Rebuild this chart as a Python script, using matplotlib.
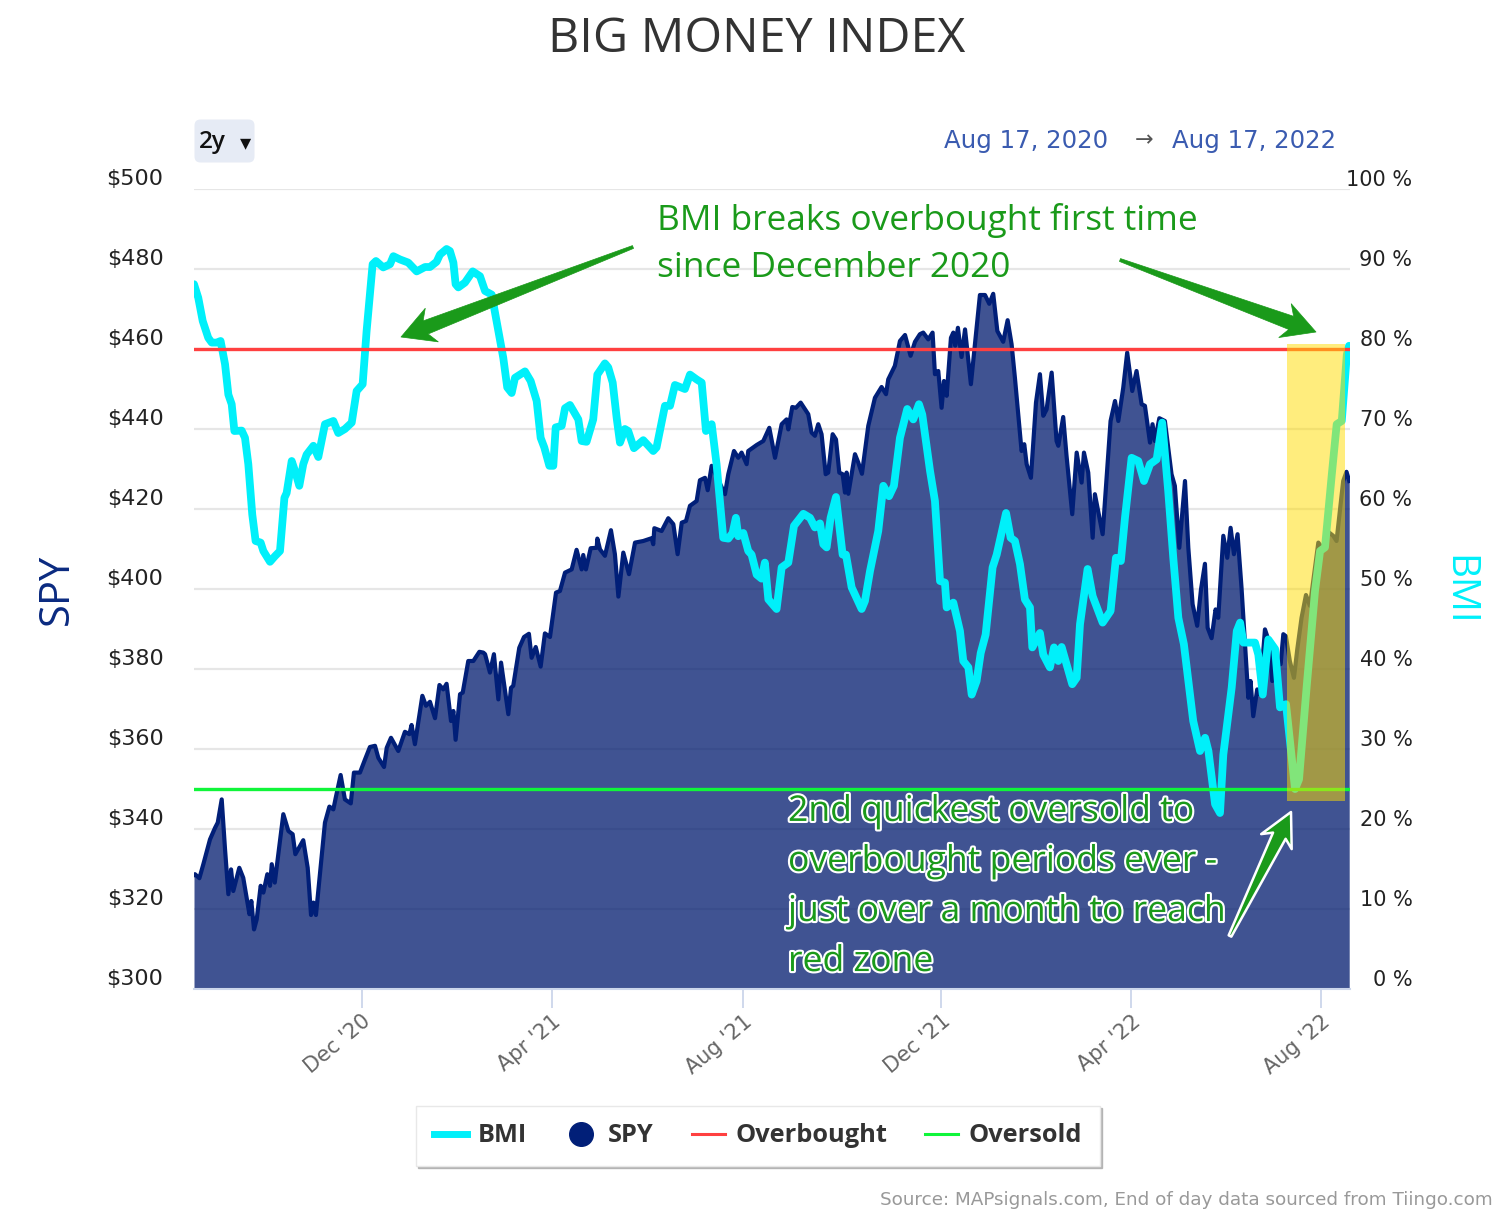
import matplotlib
matplotlib.use("Agg")
import numpy as np
import matplotlib.pyplot as plt
import matplotlib.patheffects as pe
from matplotlib.lines import Line2D
from matplotlib.patches import FancyBboxPatch, Polygon, Rectangle
from matplotlib.transforms import ScaledTranslation

# days since Aug 17, 2020 and SPY close
spy_days = [0, 0.6, 3.4, 5.9, 10.1, 13.3, 15, 17.5, 19.6, 21.7, 23.4, 24.8, 28.6, 31.1, 35, 36.2, 37.9, 39.6, 42.1, 43.8,
            46.3, 48, 49.1, 51, 56.4, 59.6, 62.3, 64, 69, 71.8, 73.9, 75.4, 77, 82.7, 85.5, 88, 89.5, 92.6, 95.3, 99,
            101, 104.8, 108, 111.1, 114.3, 116.4, 120, 121.7, 124.4, 129, 133.2, 136, 137.4, 139.5, 144.2, 146.5, 149,
            152.2, 155, 157.4, 159.5, 162.3, 163.8, 165.2, 168, 169.7, 173.2, 176.4, 180.2, 182.7,
            183.8, 186.9, 189.4, 192.2, 193.9, 198.5, 200.2, 201.6, 205.4, 208.4, 211.5, 213.2, 215.8, 218.9, 221.6,
            224.8, 228.6, 231.1, 234.3, 238.5, 241.6, 244.8, 245.8, 247.5, 250.5, 254.3, 254.7, 256.4, 259.5, 263.3,
            265.8, 268, 271.1, 274.7, 278.5, 283.7, 289, 290, 290.7, 295.3, 299.5, 302.7, 305.4, 308, 310.7, 313.2,
            317.4, 319.5, 322.7, 324.4, 326.9, 335.3, 337.4, 341, 343.7, 345.8, 349, 350, 355.3, 359.5,
            363.3, 366.9, 371.1, 374.2, 375.3, 377.8, 380.1, 383.1, 387.9, 390, 392.1, 394.2, 396.3, 398.9, 400.5,
            403.3, 405.4, 407.5, 409.6, 411.1, 412.1, 413.2, 417.4, 419.5, 421.8, 425.8, 430, 434.2, 437, 438.4, 442.6,
            445.8, 449, 452.5, 455.3, 458.4, 460.5, 463.7, 466.4, 467.9, 470, 472.1, 473.6, 475.3, 478, 479.5, 480.7,
            482.4, 484.7, 486.9, 490.6, 496.3, 499.5, 502.2, 504.7, 507.3, 511, 513.8, 516.3, 518.4, 522.6, 524.3,
            525.8, 528.5, 531.7, 534.2,
            536.3, 538.4, 541.6, 544.7, 545.8, 548.9, 551, 554.6, 557.4, 560.5, 562, 564.7, 567.5, 568.9, 573.8, 578.8,
            581.6, 583.7, 586.8, 589.3, 592.5, 595.2, 598.4, 600.5, 603.7, 605.3, 606.8, 609.6, 613.1, 617.3, 619.4,
            622.2, 625.8, 627.9, 630.6, 633.5, 635.9, 638.4, 640.1, 642.6, 645.1, 646.8, 650, 652.5, 654.6, 656.7, 659,
            661.5, 663.6, 665.8, 667.2, 668.9, 671.4, 673.1, 676.3, 679.4, 680.9, 684.7, 686.2, 687.9, 689.5, 692,
            694.6, 696.7, 699.4, 702.2, 704.7, 710, 713.1, 715.6, 719.4, 721.5, 723.6, 725.7, 727.8, 729.5]
spy_vals = [328.5, 328.7, 327.7, 331.2, 337.4, 340.3, 341.6, 347.4, 334.9, 323.7, 329.9, 324.5, 330.3, 327.8, 318.7, 322,
            314.9, 317.4, 325.8, 324.1, 328.7, 325.8, 331.2, 326.6, 343.7, 339.5, 338.7, 333.7, 337.2, 330.3, 318.5,
            321.6, 318.5, 341.6, 345.6, 344.9, 347.8, 353.5, 347.4, 346.4, 354.1, 354.1, 357.4, 360.5, 360.8, 357.8,
            355.5, 360.3, 362.8, 359.5, 364.3, 363.7, 366, 361.2, 373.3, 370.8, 371.8, 367.7, 376, 374.9, 376.3, 367,
            369.5, 362.3, 373.7, 374.1, 382, 382, 384.3, 384.1,
            383.7, 379.1, 383.7, 372.4, 381.6, 368.7, 375.3, 375.8, 385.3, 388, 388.8, 382.8, 385.5, 380.6, 388.9, 388,
            399.1, 399.5, 404.1, 404.9, 409.8, 404.9, 408.5, 404.9, 410.2, 410.3, 412.6, 409.9, 408.3, 414.7, 408.7,
            398.1, 409.1, 403.7, 411.6, 412, 412.7, 411.2, 415.2, 414.5, 417.7, 416.2, 408.7, 416.6, 417, 420.8, 422,
            427.2, 427.8, 424.7, 430.8, 423.7, 428.7, 434.5, 432.8, 434.1, 431.2, 434.5, 436, 437,
            440.3, 432.8, 441.2, 442.4, 439.9, 445.5, 445.3, 446.6, 443.7, 439.1, 438.3, 441.2, 438.7, 428.7, 429.1,
            438.7, 437.4, 429.1, 428.7, 424.1, 429.1, 423.8, 433.7, 431.6, 428.8, 440.8, 447.8, 450.5, 448.7, 452.4,
            455.8, 462, 463.5, 458.3, 461.8, 463.7, 464.1, 462.4, 464.1, 453.7, 454.5, 445.3, 452, 448.3, 462.8, 464.1,
            460.8, 465.3, 458, 464.9, 451.2, 473.5, 473.5, 471.3, 473.8, 464.5, 461.8, 467.2, 461.2, 452.8, 434.5,
            436.2, 431.2, 427.8, 446.6, 453.7,
            443.3, 444.9, 454.1, 437, 435.8, 443, 433.3, 418.7, 434.1, 426.6, 434.1, 429.1, 412.8, 423.7, 413.7, 442,
            447, 442, 450.3, 459.1, 449.5, 454.5, 446.2, 445.8, 436.6, 441.2, 437, 442.7, 442, 428.7, 425.8, 410.3, 427,
            410.3, 396.2, 390.8, 399.9, 406.3, 390.3, 387.7, 394.9, 392.8, 413.3, 407.8, 415.3, 408.7, 413.7, 400.3,
            387, 372.8, 377, 368.2, 374.9, 373.7, 389.9, 386.2, 377, 382, 381.2, 388.7, 388.2, 382, 377.8, 384.9, 392.8,
            398.5, 395.8, 411.6, 409.9, 414.5, 413.3, 412, 419.5, 427, 429.3, 427]

bmi_days = [0, 2.7, 5.5, 9, 11.2, 14.3, 16.8, 19.6, 21.7, 23.8, 25.5, 30.1, 32.2, 34.3, 36.8, 38.9, 42.1, 43.8, 48, 51.1,
            54.3, 57.1, 58.5, 61.7, 63.8, 66.5, 69, 71.1, 75.4, 78.5, 82.7, 88, 91.1, 95.3, 99.6, 102.7, 106.5, 109,
            112.8, 114.9, 119.5, 123.8, 125.9, 130, 135.3, 140.6, 145.9, 149, 153.2, 155.3, 159.5, 161.6, 163.8, 165.2,
            166.9, 171.1, 176, 180.6, 183.8, 188,
            192.2, 195.3, 197.8, 200.6, 202.7, 209, 212.6, 216.4, 218.9, 221.2, 224.4, 226.9, 228.4, 232.2, 234.3,
            237.4, 242.7, 244.8, 247.9, 252.1, 254.7, 259.5, 261.6, 264.4, 266.9, 269, 272.1, 274.2, 277.8, 283.7, 290,
            292.1, 297.4, 300.6, 303.7, 310, 313.2, 317.4, 320.6, 323.3, 326.9, 330, 334.2, 337.4, 340.1, 342.2, 343.7,
            346.9, 350, 352.1, 355.3, 358.4, 360.5, 362.7, 367.9, 371.1, 375.3, 378.9, 384.8, 389, 392.1, 395.3, 397.4,
            399.5, 402, 405.4, 409.6, 411.7, 415.3, 421.6, 423.7, 426.9, 432.1, 435.3, 438.9, 442, 445.8, 450.4, 454.2,
            457.8, 459.9, 464.8, 467.9, 471.1, 474.2, 475.3, 479.5, 483.7, 485.8, 489, 491.1, 494.2, 496.8, 499.9,
            504.3, 506.9, 512.8, 515.7, 518.4, 521.6, 524.7, 527.9, 529.4, 534.2, 536.3, 540.5, 543.1, 545.8, 547.9,
            551, 554.6, 557.4, 559.5, 564.3, 567.5, 573.8, 578.8, 582.2, 585.3, 587.9, 592.1,
            596.3, 599.9, 603.7, 607.9, 611.4, 615.2, 618.4, 621.6, 625.1, 631,
            635.3, 638.5, 640.6, 644.8, 647.9, 650, 655.3, 658.5, 660.6, 662.7, 670, 672.1, 674.9, 678.4, 682.7, 685.8,
            689.6, 695.3, 697.8, 702.6, 707.9, 711.1, 714.2, 718.5, 721.6, 724.8, 728, 729.4]
bmi_vals = [88.1, 86.4, 83.5, 81.4, 80.8, 80.8, 81, 78.1, 74.3, 73.1, 69.75, 69.8, 68.9, 65.6, 59.3, 56, 55.8, 54.75, 53.4,
            54.1, 54.75, 61.4, 62, 66, 64.75, 62.9, 65.6, 66.8, 67.9, 66.5, 70.6, 71, 69.5, 70, 70.8, 74.75, 75.6, 82.25,
            90.6, 91, 90.2, 90.6, 91.6, 91.2, 90.8, 89.7, 90.25, 90.25, 90.9, 91.8, 92.5, 92.25, 90.8, 88.1, 87.7, 88.3,
            89.7, 89.1, 87.25, 86.8,
            82.25, 78.9, 75.2, 74.5, 76.4, 77.2, 76, 73.5, 68.9, 67.7, 65.4, 65.4, 70.2, 70.4, 72.6, 73, 71.2, 68.5, 68.4,
            71.2, 76.8, 78.2, 77.7, 75.8, 71.4, 68.3, 70, 69.75, 67.6, 68.6, 67.25, 67.7, 72.9, 72.9, 75.5, 75, 76.8, 76.2,
            75.8, 69.75, 70.6, 65.6, 56.4, 56.3, 57, 58.9, 56.6, 57, 54.75, 54.3, 51.8, 51.3, 53.3, 48.7, 47.5, 52.7, 53.3,
            57.9, 59.4, 58.9, 57.7, 58.2, 55.6,
            55.2, 58.9, 61.5, 54.3, 54.3, 50.2, 47.5, 48.5, 52.25, 57.25, 62.9, 61.6, 62.9, 68.9, 72.5, 71.2, 73.1, 71.8,
            64.75, 61, 51, 50.8, 47.7, 48.3, 44.75, 41, 40.2, 36.8, 38.5, 42, 44.3, 52.7, 54.3, 59.5, 56.4, 56, 53.1, 48.7,
            47.7, 42.7, 44.5, 41.8, 40.2, 42.7, 41, 42.75, 40.6, 38.1, 38.9, 45.6, 52.5, 49.1, 45.8, 47.25, 53.9, 53.5,
            58.9, 66.4,
            66, 63.5, 65.6, 66.2, 70.8, 62.25, 53.9, 46.4, 43.1, 33.5,
            29.75, 31.4, 29.75, 23.1, 22, 29.3, 37.7, 44.75, 45.8, 43.3, 43.3, 41.8, 36.8, 43.7, 42.5, 35.2, 35.6, 25, 26.2,
            37.7, 49.75, 54.75, 55.2, 64.3, 70.6, 71, 79.3, 80.4]

overbought = 80
oversold = 25
highlight_days = (690.2, 726.8)
highlight_bmi = (23.5, 80.6)

xtick_days = [106, 226, 347, 472, 592, 712]
xtick_labels = ["Dec '20", "Apr '21", "Aug '21", "Dec '21", "Apr '22", "Aug '22"]
spy_ticks = list(range(300, 501, 20))
bmi_ticks = list(range(0, 101, 10))

W, H = 1500, 1213
FONT = "Open Sans"
ANNOT_GREEN = "#1A9A1A"


def px(x, y):
    # figure fraction from pixel position in the picture
    return x / W, 1 - y / H


def draw_arrow(fig, tail, head, shaft=14, head_w=36, head_l=33, outline=False):
    tail = np.array(px(*tail)) * [W, H]
    head = np.array(px(*head)) * [W, H]
    d = (head - tail) / np.linalg.norm(head - tail)
    n = np.array([-d[1], d[0]])
    neck = head - d * head_l * 0.8
    barb = head - d * head_l
    pts = [tail + n * 1.5, neck + n * shaft / 2, barb + n * head_w / 2, head,
           barb - n * head_w / 2, neck - n * shaft / 2, tail - n * 1.5]
    pts = [p / [W, H] for p in pts]
    arrow = Polygon(pts, closed=True, transform=fig.transFigure, facecolor=ANNOT_GREEN, zorder=10,
                    edgecolor="white" if outline else ANNOT_GREEN, linewidth=1.8 if outline else 0.5, joinstyle="round")
    fig.add_artist(arrow)


fig = plt.figure(figsize=(W / 100, H / 100), dpi=100, facecolor="white")
ax = fig.add_axes([194 / W, 1 - 989 / H, 1156 / W, 800 / H], zorder=1)
ax2 = ax.twinx()
ax2.set_zorder(2)
ax2.patch.set_visible(False)

ax.set_xlim(0, 730)
ax.set_ylim(300, 500)
ax2.set_ylim(0, 100)

ax.set_axisbelow(True)
ax.yaxis.grid(True, color="#E6E6E6", lw=1.6)
ax.fill_between(spy_days, spy_vals, 300, color="#001A6E", alpha=0.75, lw=0, zorder=2)
ax.plot(spy_days, spy_vals, color="#011F78", lw=3, zorder=3, solid_joinstyle="round")

ax2.plot(bmi_days, bmi_vals, color="#00F0FA", lw=5.6, zorder=2, solid_joinstyle="round", solid_capstyle="round")
ax2.axhline(overbought, color="#FF4040", lw=2.4, zorder=3)
ax2.axhline(oversold, color="#10F53A", lw=2.4, zorder=3)
ax2.add_patch(Rectangle((highlight_days[0], highlight_bmi[0]), highlight_days[1] - highlight_days[0],
                        highlight_bmi[1] - highlight_bmi[0], facecolor="#FFDC00", alpha=0.51, lw=0, zorder=4))

for a in (ax, ax2):
    for s in a.spines.values():
        s.set_visible(False)
ax.spines["bottom"].set_visible(True)
ax.spines["bottom"].set_color("#CCD6EB")
ax.spines["bottom"].set_linewidth(1.5)

ax.set_xticks(xtick_days)
ax.set_xticklabels(xtick_labels, rotation=40, ha="right", rotation_mode="anchor", color="#666666",
                   fontsize=15, family="DejaVu Sans")
ax.tick_params(axis="x", length=14, width=1.3, color="#CCD6EB", pad=2)

up = ScaledTranslation(0, 0.115, fig.dpi_scale_trans)
ax.set_yticks(spy_ticks)
ax.set_yticklabels([f"${v}" for v in spy_ticks], fontsize=16, color="#222222", family="DejaVu Sans")
ax.tick_params(axis="y", length=0, pad=22)
for lab in ax.get_yticklabels():
    lab.set_transform(lab.get_transform() + up)

ax2.set_yticks(bmi_ticks)
ax2.set_yticklabels([f"{v} %" for v in bmi_ticks], fontsize=15, color="#222222", family="DejaVu Sans", ha="right")
ax2.tick_params(axis="y", length=0, pad=45)
for lab in ax2.get_yticklabels():
    lab.set_transform(lab.get_transform() + up)

fig.text(*px(757, 39), "BIG MONEY INDEX", ha="center", va="center", fontsize=34.8, color="#333333", family=FONT)
fig.text(*px(57, 589), "SPY", rotation=90, ha="center", va="center", fontsize=30, color="#0A2A80", family=FONT)
fig.text(*px(1458, 590), "BMI", rotation=270, ha="center", va="center", fontsize=28, color="#00F0FA", family=FONT)

# range selector and date range
fig.add_artist(FancyBboxPatch(px(199, 158), 51 / W, 34 / H, boxstyle="round,pad=0.003,rounding_size=0.004",
                              transform=fig.transFigure, facecolor="#E6EBF5", edgecolor="none", mutation_aspect=W / H))
fig.text(*px(199, 142), "2y", ha="left", va="center", fontsize=17.5, weight="semibold", color="#111111", family=FONT)
fig.text(*px(245, 143), "▾", ha="center", va="center", fontsize=16, color="#111111", family="DejaVu Sans")
fig.text(*px(1026, 141), "Aug 17, 2020", ha="center", va="center", fontsize=17.6, color="#3A5BB0", family="DejaVu Sans")
fig.text(*px(1144, 140), "→", ha="center", va="center", fontsize=16, color="#555555", family="DejaVu Sans")
fig.text(*px(1254, 141), "Aug 17, 2022", ha="center", va="center", fontsize=17.6, color="#3A5BB0", family="DejaVu Sans")

# callouts
fig.text(*px(657, 244), "BMI breaks overbought first time\nsince December 2020", ha="left", va="center",
         fontsize=25.4, color=ANNOT_GREEN, family=FONT, linespacing=1.53, zorder=10)
low = fig.text(*px(788, 887), "2nd quickest oversold to\noverbought periods ever -\njust over a month to reach\nred zone",
               ha="left", va="center", fontsize=25.6, color=ANNOT_GREEN, family=FONT, linespacing=1.52, zorder=10)
low.set_path_effects([pe.withStroke(linewidth=3, foreground="white")])
draw_arrow(fig, (633, 247), (401, 337))
draw_arrow(fig, (1120, 260), (1316, 332))
draw_arrow(fig, (1230, 936), (1291, 812), head_w=34, outline=True)

# legend
handles = [Line2D([], [], color="#00F0FA", lw=5),
           Line2D([], [], color="#011F78", marker="o", ms=17, lw=0),
           Line2D([], [], color="#FF4040", lw=2.2),
           Line2D([], [], color="#10F53A", lw=2.2)]
leg = fig.legend(handles, ["BMI", "SPY", "Overbought", "Oversold"], loc="center", bbox_to_anchor=px(758, 1136), ncols=4,
                 frameon=True, fancybox=False, shadow={"color": "#AAAAAA", "alpha": 0.8, "ox": 1.5, "oy": -1.5},
                 edgecolor="#E8E8E8", framealpha=1, handlelength=1.3, columnspacing=1.5, handletextpad=0.4,
                 borderpad=0.7, prop={"family": FONT, "weight": "bold", "size": 18.3})
for t in leg.get_texts():
    t.set_color("#333333")

fig.text(*px(1493, 1200), "Source: MAPsignals.com, End of day data sourced from Tiingo.com", ha="right", va="center",
         fontsize=13.2, color="#999999", family="DejaVu Sans")

fig.savefig("out.png", dpi=100)
